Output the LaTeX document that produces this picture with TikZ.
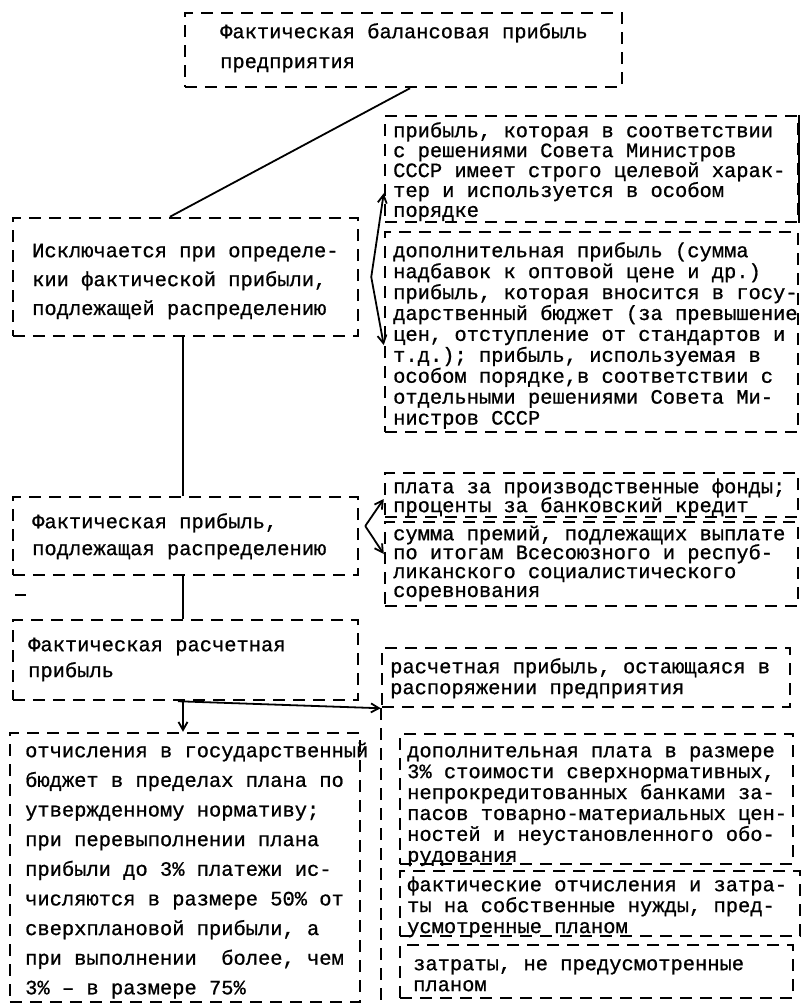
\documentclass[tikz,border=0pt]{standalone}
\usepackage{fontspec}
\newfontfamily\tw[FakeBold=0.8]{Liberation Mono}
\usetikzlibrary{arrows.meta,calc}
\lineskiplimit=-100pt
\begin{document}
\lineskiplimit=-100pt
\begin{tikzpicture}[x=1bp,y=-1bp,
  dbox/.style={draw, line width=2.5bp, dash pattern=on 12bp off 8bp, inner sep=0pt},
  txt/.style={inner sep=0pt, anchor=north west, align=left,
    font=\tw\fontsize{20.5}{#1}\selectfont},
  conn/.style={line width=1.8bp},
  dconn/.style={line width=2.5bp, dash pattern=on 12bp off 8bp},
  arr/.style={conn, -{Straight Barb[length=8bp,width=9bp]}}]
\fill[white] (0,0) rectangle (812,1005);
\useasboundingbox (0,0) rectangle (812,1005);

% boxes
\node[dbox, minimum width=437bp, minimum height=74bp]  (T)  at (403.5,50)   {};
\node[dbox, minimum width=413bp, minimum height=106bp] (R1) at (591.5,169)  {};
\node[dbox, minimum width=413bp, minimum height=200bp] (R2) at (591.5,332)  {};
\node[dbox, minimum width=345bp, minimum height=118bp] (A)  at (185.5,277)  {};
\node[dbox, minimum width=413bp, minimum height=44bp]  (R3) at (591.5,495)  {};
\node[dbox, minimum width=413bp, minimum height=84bp]  (R4) at (591.5,564)  {};
\node[dbox, minimum width=345bp, minimum height=78bp]  (B)  at (185.5,536)  {};
\node[dbox, minimum width=345bp, minimum height=80bp]  (C)  at (185.5,660)  {};
\node[dbox, minimum width=408bp, minimum height=59bp]  (R5) at (586,677.5)  {};
\node[dbox, minimum width=350bp, minimum height=269bp] (D)  at (185,867.5)  {};
\node[dbox, minimum width=393bp, minimum height=130bp] (R6) at (596.5,799)  {};
\node[dbox, minimum width=400bp, minimum height=65bp]  (R7) at (600,903.5)  {};
\node[dbox, minimum width=393bp, minimum height=53bp]  (R8) at (596.5,971.5){};
\draw[line width=2.2bp] (R1.north east) -- (R1.south east);

% texts
\node[txt=30] (Tt) at (220,21) {\rule{0pt}{17bp}Фактическая балансовая прибыль\\предприятия};
\node[txt=20] (R1t) at (393,120) {\rule{0pt}{17bp}прибыль, которая в соответствии\\с решениями Совета Министров\\СССР имеет строго целевой харак-\\тер и используется в особом\\порядке};
\node[txt=21] (R2t) at (393,240) {\rule{0pt}{17bp}дополнительная прибыль (сумма\\надбавок к оптовой цене и др.)\\прибыль, которая вносится в госу-\\дарственный бюджет (за превышение\\цен, отступление от стандартов и\\т.д.); прибыль, используемая в\\особом порядке,в соответствии с\\отдельными решениями Совета Ми-\\нистров СССР};
\node[txt=29] (At) at (32,240) {\rule{0pt}{17bp}Исключается при определе-\\кии фактической прибыли,\\подлежащей распределению};
\node[txt=19] (R3t) at (393,476) {\rule{0pt}{17bp}плата за производственные фонды;\\проценты за банковский кредит};
\node[txt=19] (R4t) at (393,523) {\rule{0pt}{17bp}сумма премий, подлежащих выплате\\по итогам Всесоюзного и респуб-\\ликанского социалистического\\соревнования};
\node[txt=27] (Bt) at (32,511) {\rule{0pt}{17bp}Фактическая прибыль,\\подлежащая распределению};
\node[txt=26] (Ct) at (28,634) {\rule{0pt}{17bp}Фактическая расчетная\\прибыль};
\node[txt=21] (R5t) at (390,656) {\rule{0pt}{17bp}расчетная прибыль, остающаяся в\\распоряжении предприятия};
\node[txt=29.75] (Dt) at (25,740) {\rule{0pt}{17bp}отчисления в государственный\\бюджет в пределах плана по\\утвержденному нормативу;\\при перевыполнении плана\\прибыли до 3\% платежи ис-\\числяются в размере 50\% от\\сверхплановой прибыли, а\\при выполнении\ \ более, чем\\3\% – в размере 75\%};
\node[txt=21] (R6t) at (407,740) {\rule{0pt}{17bp}дополнительная плата в размере\\3\% стоимости сверхнормативных,\\непрокредитованных банками за-\\пасов товарно-материальных цен-\\ностей и неустановленного обо-\\рудования};
\node[txt=21] (R7t) at (407,874) {\rule{0pt}{17bp}фактические отчисления и затра-\\ты на собственные нужды, пред-\\усмотренные планом};
\node[txt=21] (R8t) at (413,953) {\rule{0pt}{17bp}затраты, не предусмотренные\\планом};

% connectors
\draw[conn] (410,0 |- T.south) -- (170,0 |- A.north);
\draw[conn] (183,0 |- A.south) -- (183,0 |- B.north);
\draw[conn] (183,0 |- B.south) -- (183,0 |- C.north);
\draw[arr] (183,0 |- C.south) -- (183,0 |- D.north);
\draw[arr] (178,0 |- C.south) -- (R5.south west);
\draw[dconn] (R5.south west) -- (R5.south west |- D.south);

\coordinate (kA) at ($(A.east)+(12,0)$);
\draw[arr] (kA) -- ($(R1.south west)+(0,-30)$);
\draw[arr] (kA) -- ($(R2.west)+(0,13)$);
\coordinate (kB) at ($(B.east)+(6,-10)$);
\draw[arr] (kB) -- ($(R3.west)+(0,4)$);
\draw[arr] (kB) -- ($(R4.west)+(0,-10)$);

\draw[line width=2.5bp] (15,595) -- (26,595);
\end{tikzpicture}
\end{document}
